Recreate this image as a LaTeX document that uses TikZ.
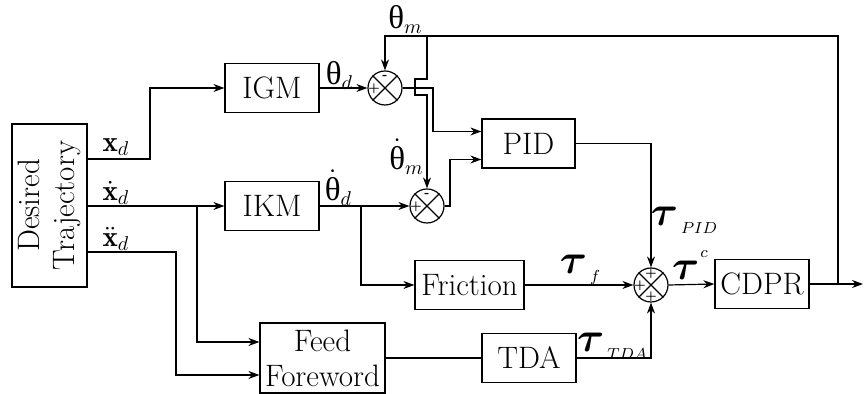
\documentclass[tikz,border=0pt]{standalone}
\usepackage{amsmath}
\usepackage{fontspec}
\newfontfamily\thfont{Liberation Serif}
\usetikzlibrary{arrows.meta}
\newcommand{\thlab}[1]{{\thfont θ}\raisebox{-0.35ex}{\fontsize{10}{11}\selectfont$#1$}}
\newcommand{\dthlab}[1]{$\dot{\hbox{\thfont θ}}$\raisebox{-0.35ex}{\fontsize{10}{11}\selectfont$#1$}}
\newcommand{\taulab}[1]{$\boldsymbol{\tau}$\kern1.5pt\raisebox{-0.45ex}{\fontsize{8.5}{9}\selectfont$#1$}}
\newcommand{\tausup}[1]{$\boldsymbol{\tau}$\kern0.5pt\raisebox{1.2ex}{\fontsize{8.5}{9}\selectfont$#1$}}
\tikzset{
  blk/.style={draw, line width=0.6pt, minimum height=24.5pt, inner sep=0pt, align=center,
    font=\fontsize{15.5}{17.5}\selectfont},
  sumc/.style={draw, circle, line width=0.6pt, minimum size=17pt, inner sep=0pt},
  arr/.style={line width=0.6pt, -{Stealth[length=5.5pt,width=4pt]}},
  ln/.style={line width=0.6pt},
  sgn/.style={font=\fontsize{5.5}{5.5}\selectfont\bfseries, inner sep=0pt},
  thl/.style={inner sep=0pt, font=\fontsize{16.5}{18}\selectfont},
  tal/.style={inner sep=0pt, font=\fontsize{21}{23}\selectfont},
  xl/.style={inner sep=0pt, font=\fontsize{14.5}{16}\selectfont},
}
\begin{document}
\begin{tikzpicture}[x=0.5pt,y=-0.5pt]
\useasboundingbox (0,0) rectangle (864,394);
% blocks
\node[blk, rotate=90, minimum width=81.5pt, minimum height=37.5pt] (dt) at (49.5,205.5) {Desired\\Trajectory};
\node[blk, minimum width=47pt] (igm) at (272,88) {IGM};
\node[blk, minimum width=47pt] (ikm) at (272,206) {IKM};
\node[blk, minimum width=46.5pt] (pid) at (528.5,143.5) {PID};
\node[blk, minimum width=54.5pt] (fric) at (469.5,285) {Friction};
\node[blk, minimum width=47pt] (cdpr) at (762,284) {CDPR};
\node[blk, minimum width=47pt] (tda) at (529,358) {TDA};
\node[blk, minimum width=62.5pt, minimum height=35pt] (ff) at (322.5,358) {Feed\\Foreword};
% sums
\node[sumc] (s1) at (385,88) {};
\node[sumc] (s2) at (427,206) {};
\node[sumc] (s3) at (651,285) {};
\foreach \s in {s1,s2,s3}{
  \draw[ln] (\s.north east) -- (\s.south west) (\s.north west) -- (\s.south east);
}
\node[sgn] (s1m) at (385,76.5) {-};
\node[sgn] (s1p) at (374,89) {+};
\node[sgn] (s2m) at (427,194.5) {-};
\node[sgn] (s2p) at (416,207) {+};
\node[sgn] (s3t) at (651,274) {+};
\node[sgn] (s3l) at (640,285.5) {+};
\node[sgn] (s3b) at (651,297) {+};
% coordinates
\coordinate (o1) at (87,159);
\coordinate (o2) at (87,206);
\coordinate (o3) at (87,252);
\coordinate (end) at (863,284);
\coordinate (fb) at (838,284);
\coordinate (jt) at (427,36);
% connectors
\draw[arr] (o1) -- (150,159) |- (igm.west);
\draw[arr] (o2) -- (ikm.west);
\draw[arr] (197,206) |- ([yshift=8pt]ff.west);
\draw[arr] (o3) -- (176,252) |- ([yshift=-8.5pt]ff.west);
\draw[arr] (igm.east) -- (s1.west);
\draw[arr] (ikm.east) -- (s2.west);
\draw[arr] (361,206) |- (fric.west);
\draw[arr] (fric.east) -- (s3.west);
\draw[arr] (s3.east) -- (cdpr.west);
\draw[arr] (cdpr.east) -- (end);
\draw[arr] (fb) |- (s1.north |- jt) -- (s1.north);
\draw[arr] (jt) -- (427,79) -- (415,79) -- (415,95) -- (427,95) -- (s2.north);
\draw[arr] (s1.east) -- (433,88) |- ([yshift=6pt]pid.west);
\draw[arr] (s2.east) -- (450,206) |- ([yshift=-8pt]pid.west);
\draw[arr] (pid.east) -| (s3.north);
\draw[ln] (ff.east) -- (tda.west);
\draw[arr] (tda.east) -| (s3.south);
% labels
\node[xl] (lx1) at (116,147) {$\mathbf{x}_d$};
\node[xl] (lx2) at (116,193) {$\dot{\mathbf{x}}_d$};
\node[xl] (lx3) at (116,239) {$\ddot{\mathbf{x}}_d$};
\node[thl] (lthd) at (339,75) {\thlab{d}};
\node[thl] (lthm) at (405,19) {\thlab{m}};
\node[thl] (ldthd) at (338,188) {\dthlab{d}};
\node[thl] (ldthm) at (406,157) {\dthlab{m}};
\node[tal] (ltpid) at (684,220) {\taulab{PID}};
\node[tal] (ltf) at (580,270) {\taulab{f}};
\node[tal] (ltc) at (690,265) {\tausup{c}};
\node[tal] (ltda) at (612,346) {\taulab{TDA}};
\end{tikzpicture}
\end{document}
